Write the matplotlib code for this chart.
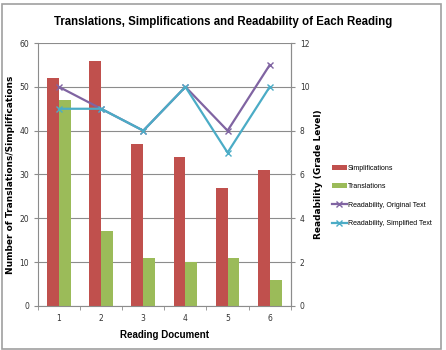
import matplotlib.pyplot as plt
import numpy as np
from matplotlib.patches import FancyBboxPatch

docs = [1, 2, 3, 4, 5, 6]
simplifications = [52, 56, 37, 34, 27, 31]
translations = [47, 17, 11, 10, 11, 6]
read_original = [10, 9, 8, 10, 8, 11]
read_simplified = [9, 9, 8, 10, 7, 10]

narrow = ['Liberation Sans Narrow', 'DejaVu Sans Condensed', 'Liberation Sans']

fig = plt.figure(figsize=(4.46, 3.5), dpi=100)
fig.patches.append(FancyBboxPatch((0.004, 0.004), 0.985, 0.985, boxstyle='square,pad=0',
                                  transform=fig.transFigure, fill=False,
                                  edgecolor='#a0a0a0', linewidth=1.2))

ax = fig.add_axes([0.085, 0.126, 0.567, 0.751])
x = np.arange(len(docs))
w = 0.28
ax.bar(x - w / 2, simplifications, w, color='#C0504D', label='Simplifications', zorder=2)
ax.bar(x + w / 2, translations, w, color='#9BBB59', label='Translations', zorder=2)
ax.set_ylim(0, 60)
ax.set_xlim(-0.5, len(docs) - 0.5)
ax.set_yticks(range(0, 61, 10))
ax.set_xticks(x)
ax.set_xticklabels(docs)
ax.grid(axis='y', color='#8c8c8c', linewidth=0.8, zorder=0)
ax.set_axisbelow(True)
ax.spines['top'].set_visible(False)
for s in ['left', 'bottom', 'right']:
    ax.spines[s].set_color('#8c8c8c')
ax.tick_params(labelsize=5.5, colors='#8c8c8c', labelcolor='#333333', length=3)
ax.set_xticks(np.arange(-0.5, len(docs), 1), minor=True)
ax.tick_params(axis='x', which='major', length=0, pad=6)
ax.tick_params(axis='x', which='minor', length=3, color='#8c8c8c')
ax.set_xlabel('Reading Document', fontsize=7, fontweight='bold', family=narrow, labelpad=5)
ax.set_ylabel('Number of Translations/Simplifications', fontsize=6.5, fontweight='bold')
ax.yaxis.set_label_coords(-0.09, 0.5)

ax2 = ax.twinx()
ax2.plot(x, read_original, color='#8064A2', marker='x', markersize=5, linewidth=1.6,
         label='Readability, Original Text')
ax2.plot(x, read_simplified, color='#4BACC6', marker='x', markersize=5, linewidth=1.6,
         label='Readability, Simplified Text')
ax2.set_ylim(0, 12)
ax2.set_yticks(range(0, 13, 2))
for s in ['top', 'left', 'bottom']:
    ax2.spines[s].set_visible(False)
ax2.spines['right'].set_color('#8c8c8c')
ax2.tick_params(labelsize=5.5, colors='#8c8c8c', labelcolor='#333333', length=3)
ax2.set_ylabel('Readability (Grade Level)', fontsize=6.5, fontweight='bold')
ax2.yaxis.set_label_coords(1.09, 0.5)

h1, l1 = ax.get_legend_handles_labels()
h2, l2 = ax2.get_legend_handles_labels()
fig.legend(h1 + h2, l1 + l2, loc='center left', bbox_to_anchor=(0.73, 0.44),
           frameon=False, handlelength=2.2, handletextpad=0.15,
           labelspacing=1.65, prop={'family': narrow, 'size': 5})

fig.suptitle('Translations, Simplifications and Readability of Each Reading',
             x=0.5, y=0.955, fontsize=8.3, fontweight='bold', family=narrow)

fig.savefig('out.png', dpi=100)
